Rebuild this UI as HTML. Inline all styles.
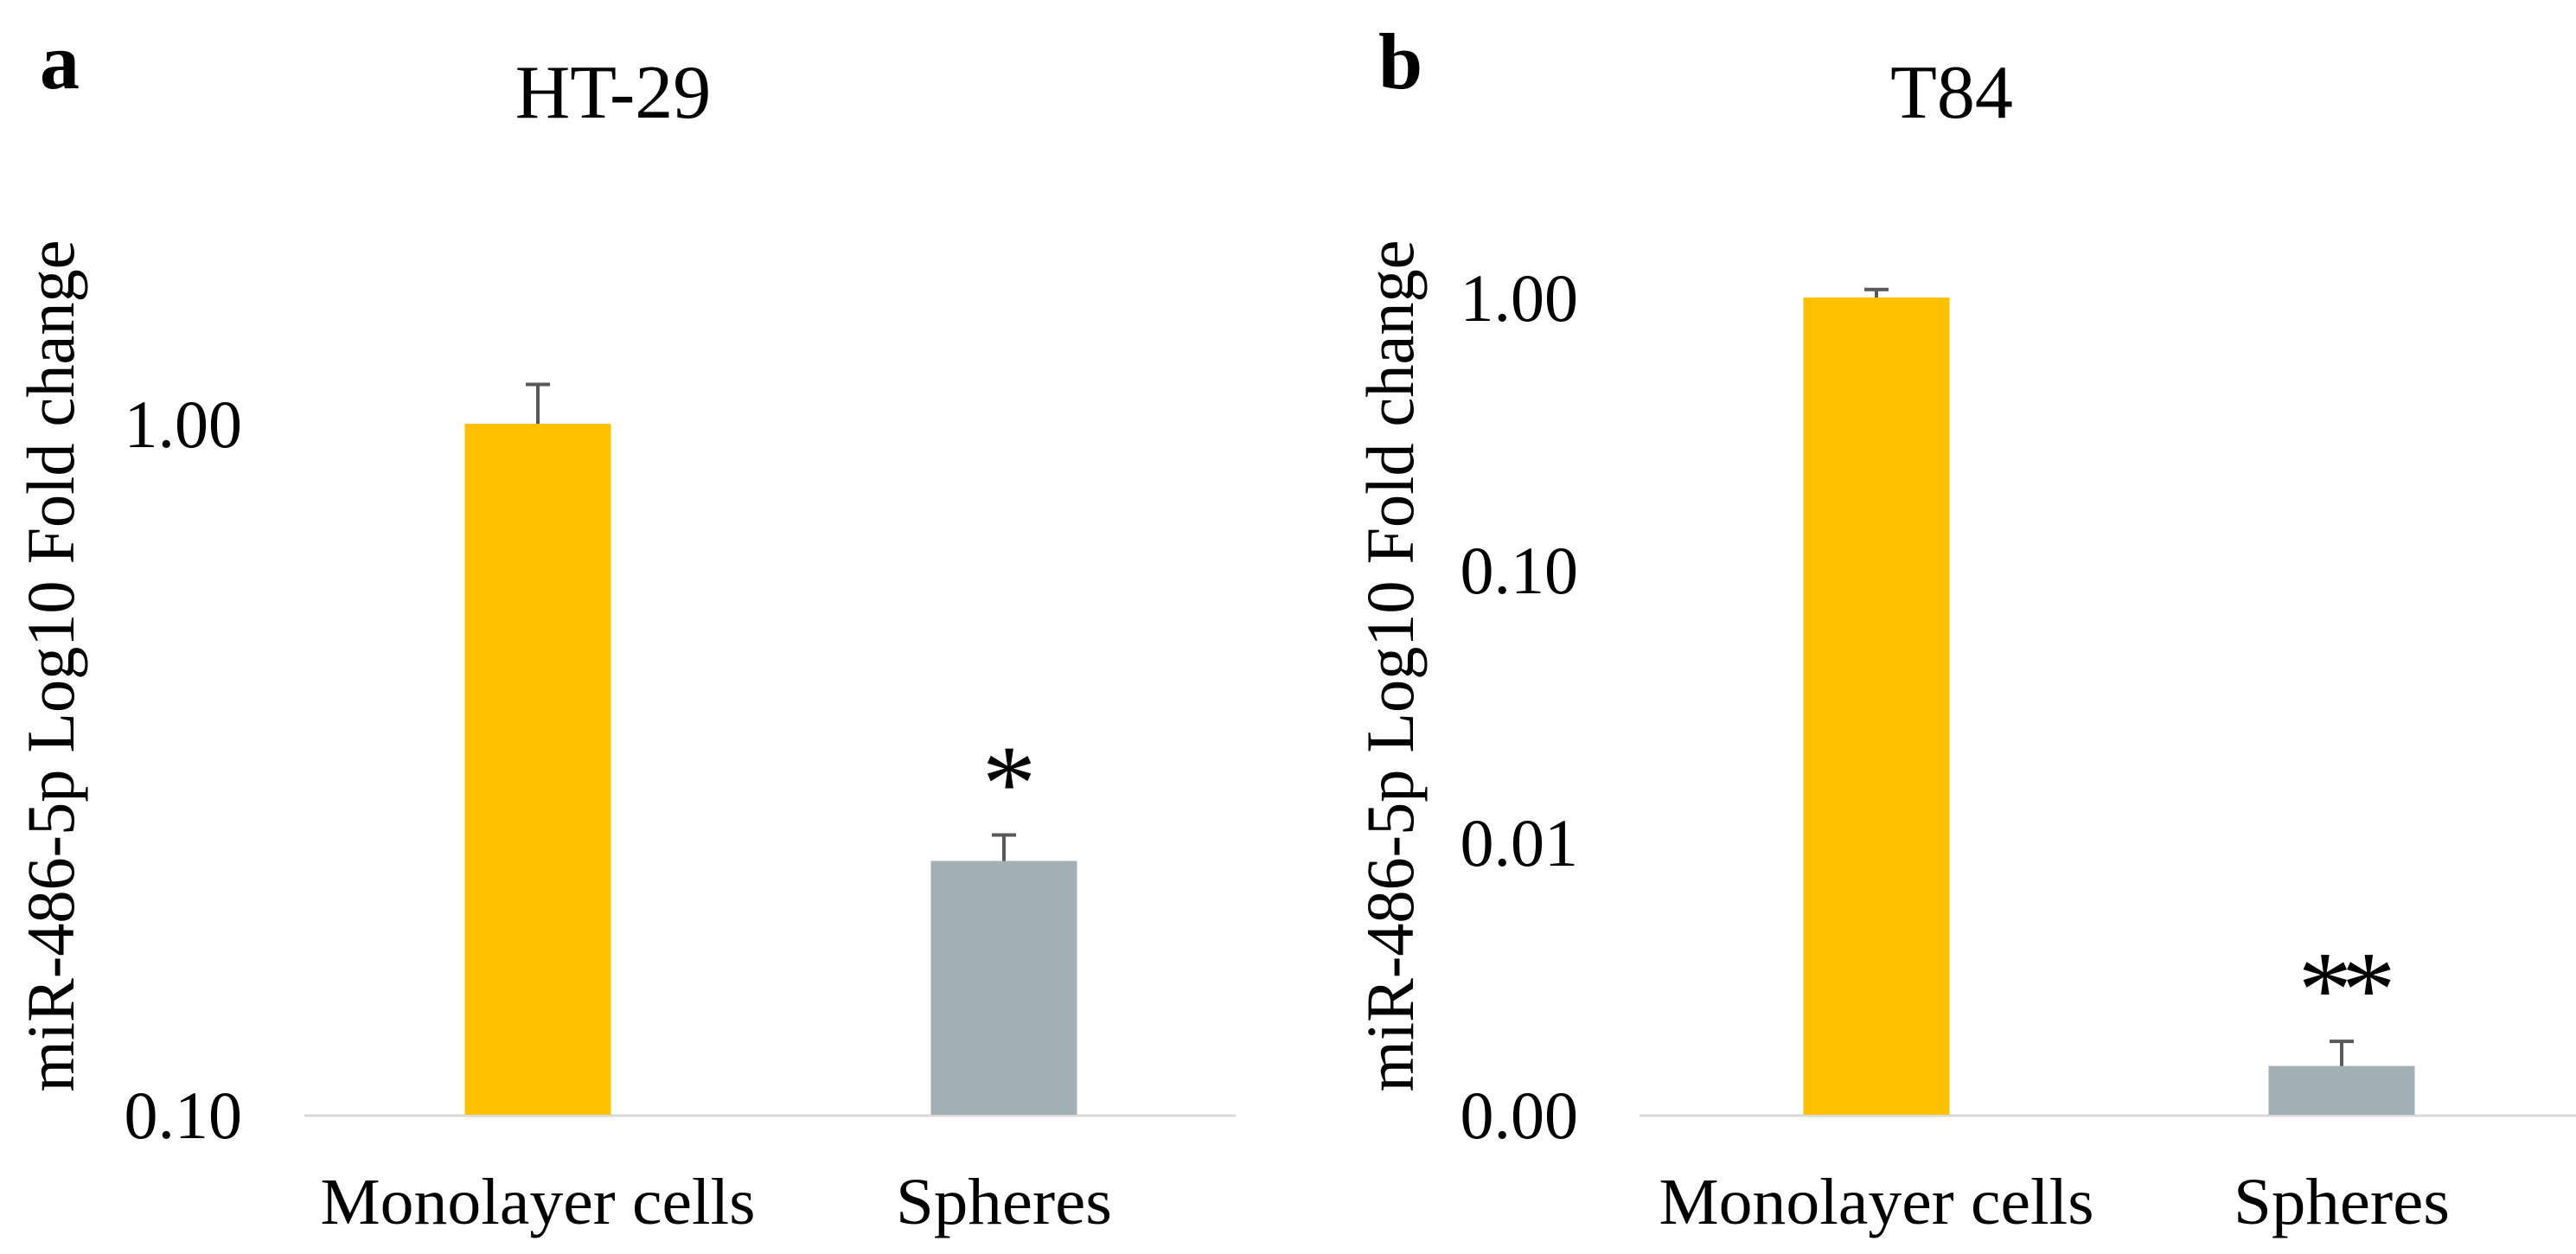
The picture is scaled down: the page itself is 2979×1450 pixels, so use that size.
<!DOCTYPE html>
<html><head><meta charset="utf-8"><style>
html,body{margin:0;padding:0;background:#fff;}
svg{display:block;}
text{font-family:"Liberation Serif",serif;fill:#000;}
</style></head><body>
<svg id="fig" width="2979" height="1450" viewBox="0 0 2979 1450" xmlns="http://www.w3.org/2000/svg"></svg>
<script>
const categories = ["Monolayer cells", "Spheres"];
const htValues = [1.0, 0.233];
const htErrors = [0.14, 0.021];
const htTicks = [1, 0.1];
const htTickLabels = ["1.00", "0.10"];
const htStars = ["", "*"];
const t84Values = [1.0, 0.00151];
const t84Errors = [0.07, 0.00035];
const t84Ticks = [1, 0.1, 0.01, 0.001];
const t84TickLabels = ["1.00", "0.10", "0.01", "0.00"];
const t84Stars = ["", "**"];
const colors = ["#FFC000", "#A2AFB4"];

const NS = "http://www.w3.org/2000/svg";
const svg = document.getElementById("fig");
function mk(tag, attrs, parent, txt){
  const e = document.createElementNS(NS, tag);
  for (const k in attrs) e.setAttribute(k, attrs[k]);
  if (txt !== undefined) e.textContent = txt;
  (parent || svg).appendChild(e);
  return e;
}

function panel(p){
  const g = mk("g", {});
  
  
  const ymin = Math.log10(p.ticks[p.ticks.length-1]), ymax = Math.log10(p.ticks[0]);
  const yScale = v => p.yBottom - (Math.log10(v) - ymin) / (ymax - ymin) * (p.yBottom - p.yTop);
  const xScale = i => p.xCenters[i];

  const letter = mk("text", {x: p.letterX, y: 102, "font-size": 92, "font-weight": "bold"}, g, p.letter);
  
  
  const title = mk("text", {x: p.titleX, y: 136, "font-size": 88, "text-anchor": "middle"}, g, p.title);
  
  
  const yl = mk("text", {x: 0, y: 0, "font-size": 78, "text-anchor": "middle", textLength: 985, lengthAdjust: "spacingAndGlyphs",
    transform: "translate(" + p.ylabelX + ",770) rotate(-90)"}, g, "miR-486-5p Log10 Fold change");
  
  

  p.ticks.forEach((t, i) => {
    const tl = mk("text", {x: p.tickX, y: yScale(t) + 27, "font-size": 78, "text-anchor": "end"}, g, p.tickLabels[i]);
    
    
  });

  const axis = mk("line", {x1: p.axisX1, x2: p.axisX2, y1: p.yBottom + 1, y2: p.yBottom + 1, stroke: "#D9D9D9", "stroke-width": 3}, g);
  
  

  p.values.forEach((v, i) => {
    const cx = xScale(i), w = 169, top = yScale(v);
    const bar = mk("rect", {x: cx - w/2, y: top, width: w, height: p.yBottom - top, fill: colors[i]}, g);
    
    
    const et = yScale(v + p.errors[i]);
    const eb = mk("path", {d: "M" + cx + " " + top + "V" + et + "M" + (cx-14) + " " + et + "H" + (cx+14), stroke: "#595959", "stroke-width": 4, fill: "none"}, g);
    
    
    if (p.stars[i]) {
      const st = mk("text", {x: cx, y: et - 18, "font-size": 125, "text-anchor": "middle", "letter-spacing": -12}, g, p.stars[i]);
      
      
    }
    const xl = mk("text", {x: cx, y: 1415, "font-size": 76, "text-anchor": "middle", textLength: p.labelLens[i], lengthAdjust: "spacingAndGlyphs"}, g, categories[i]);
    
    
  });
}

panel({id: "ht29", letter: "a", letterX: 46, title: "HT-29", titleX: 709, ylabelX: 85,
  values: htValues, errors: htErrors, ticks: htTicks, tickLabels: htTickLabels, stars: htStars,
  yTop: 490, yBottom: 1289, tickX: 280, axisX1: 352, axisX2: 1429, xCenters: [622, 1161], labelLens: [503, 250]});
panel({id: "t84", letter: "b", letterX: 1594, title: "T84", titleX: 2257, ylabelX: 1634,
  values: t84Values, errors: t84Errors, ticks: t84Ticks, tickLabels: t84TickLabels, stars: t84Stars,
  yTop: 344, yBottom: 1289, tickX: 1825, axisX1: 1896, axisX2: 2979, xCenters: [2170, 2708], labelLens: [503, 250]});
</script>
</body></html>
